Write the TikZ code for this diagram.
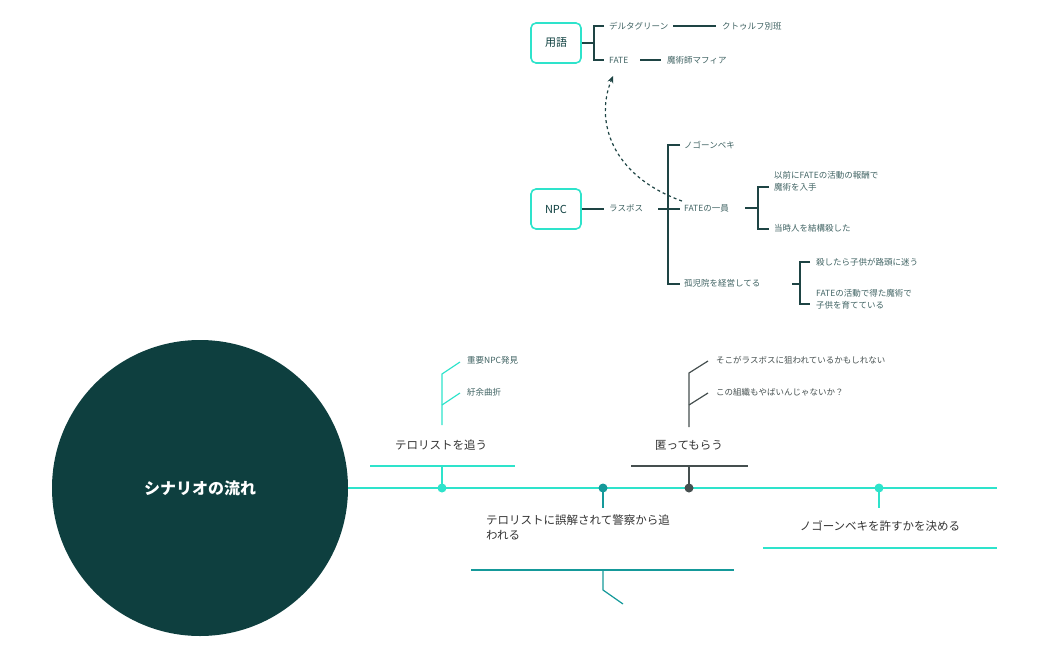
\documentclass[tikz,border=0pt]{standalone}
\usepackage{fontspec}
\setmainfont{Noto Sans CJK JP}
\usetikzlibrary{arrows.meta}
\definecolor{dk}{HTML}{0E3F3F}
\definecolor{cy}{HTML}{2EE3CB}
\definecolor{tl}{HTML}{15999A}
\definecolor{gr}{HTML}{454F4F}
\definecolor{tx}{HTML}{3F6262}
\definecolor{ln}{HTML}{1E4444}
\tikzset{
 sm/.style={anchor=west,inner sep=0pt,font=\fontsize{8.5}{12}\selectfont,text=tx,align=left},
 big/.style={inner sep=0pt,font=\fontsize{11.5}{17}\selectfont,text=black!80},
 box/.style={draw=cy,line width=1.6pt,rounded corners=5pt,minimum width=50pt,minimum height=40pt,text=dk,font=\fontsize{11}{13}\selectfont},
 br/.style={draw=ln,line width=1.2pt},
}
\begin{document}
\begin{tikzpicture}[x=1pt,y=-1pt]
\useasboundingbox (0,0) rectangle (1049,650);
% main
\node[circle,fill=dk,minimum size=296pt,inner sep=0pt,text=white,font=\fontsize{16}{18}\selectfont\bfseries] (c) at (200,488) {シナリオの流れ};
\coordinate (m0) at (348,488); \coordinate (m1) at (997,488);
\draw[cy,line width=2pt] (m0)--(m1);
% topic 1
\coordinate (d1) at (442,488);
\draw[cy,line width=1.5pt] (d1)--(442,466);
\fill[cy] (d1) circle (4.5);
\draw[cy,line width=2pt] (370,466)--(515,466);
\node[big] (t1) at (441,445) {テロリストを追う};
\draw[cy,line width=1.2pt] (442,425)--(442,374)--(460,362);
\draw[cy,line width=1.2pt] (442,405)--(460,393);
\node[sm] (s11) at (467,360) {重要NPC発見};
\node[sm] (s12) at (467,392) {紆余曲折};
% topic 2
\coordinate (d2) at (603,488);
\draw[tl,line width=1.5pt] (d2)--(603,508);
\fill[tl] (d2) circle (4.5);
\node[big,anchor=north west,align=left,text width=260pt] (t2) at (486,515) {テロリストに誤解されて警察から追\\[-2pt]われる};
\draw[tl,line width=2pt] (471,570)--(734,570);
\draw[tl,line width=1.2pt] (603,570)--(603,590)--(623,604);
% topic 3
\coordinate (d3) at (689,488);
\draw[gr,line width=1.5pt] (d3)--(689,466);
\fill[gr] (d3) circle (4.5);
\draw[gr,line width=2pt] (631,466)--(748,466);
\node[big] (t3) at (689,445) {匿ってもらう};
\draw[gr,line width=1.2pt] (689,427)--(689,373)--(708,361);
\draw[gr,line width=1.2pt] (689,405)--(708,393);
\node[sm,text=gr] (s31) at (716,360) {そこがラスボスに狙われているかもしれない};
\node[sm,text=gr] (s32) at (716,392) {この組織もやばいんじゃないか？};
% topic 4
\coordinate (d4) at (879,488);
\draw[cy,line width=1.5pt] (d4)--(879,508);
\fill[cy] (d4) circle (4.5);
\node[big] (t4) at (880,526) {ノゴーンベキを許すかを決める};
\draw[cy,line width=2pt] (763,548)--(997,548);
% 用語
\node[box] (y) at (556,43) {用語};
\draw[br] (y.east)--(594,43);
\draw[br] (604,26)--(594,26)--(594,60)--(604,60);
\node[sm] (dg) at (609,26) {デルタグリーン};
\node[sm] (kb) at (722,26) {クトゥルフ別班};
\draw[br] (dg.east)++(5,0)--(716,26);
\node[sm] (fa) at (609,60) {FATE};
\node[sm] (mm) at (667,60) {魔術師マフィア};
\draw[br] (640,60)--(661,60);
% NPC
\node[box] (n) at (556,209) {NPC};
\node[sm] (lb) at (609,208) {ラスボス};
\draw[br] (n.east)--(604,209);
\draw[br] (658,209)--(680,209);
\draw[br] (680,145)--(668,145)--(668,284)--(680,284);
\node[sm] (ng) at (684,145) {ノゴーンベキ};
\node[sm] (fi) at (684,208) {FATEの一員};
\node[sm] (ko) at (684,283) {孤児院を経営してる};
\draw[br] (745,208)--(758,208);
\draw[br] (769,187)--(758,187)--(758,229)--(769,229);
\node[sm,anchor=north west] (a1) at (774,171) {以前にFATEの活動の報酬で\\魔術を入手};
\node[sm] (a2) at (774,228) {当時人を結構殺した};
\draw[br] (792,284)--(800,284);
\draw[br] (810,262)--(800,262)--(800,304)--(810,304);
\node[sm] (b1) at (816,262) {殺したら子供が路頭に迷う};
\node[sm,anchor=north west] (b2) at (816,289) {FATEの活動で得た魔術で\\子供を育てている};
\draw[ln,line width=1.2pt,dashed,-{Stealth[length=7pt,width=6pt]}] (fi.north west)+(-2,-3) .. controls (610,175) and (595,120) .. (613,76);
\end{tikzpicture}
\end{document}
